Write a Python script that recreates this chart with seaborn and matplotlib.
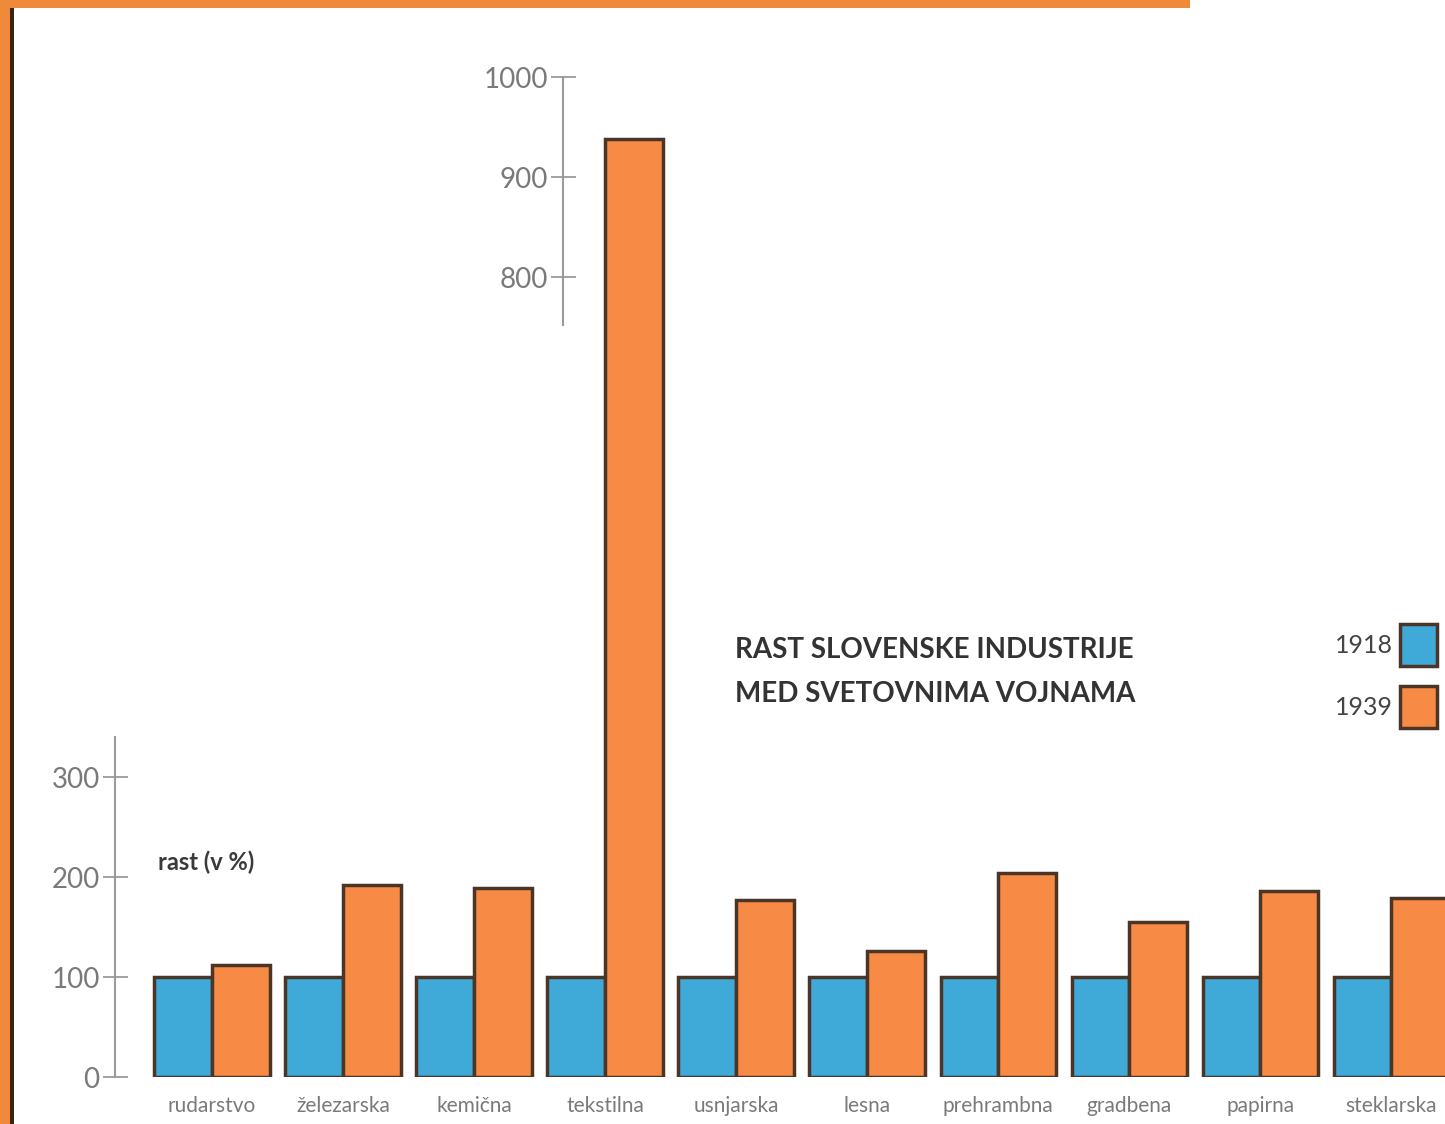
import matplotlib
matplotlib.use("Agg")
import matplotlib.pyplot as plt
from matplotlib.patches import Rectangle
import seaborn as sns
import pandas as pd

# data (index, 1918 = 100)
industries = ["rudarstvo", "železarska", "kemična", "tekstilna", "usnjarska",
              "lesna", "prehrambna", "gradbena", "papirna", "steklarska"]
years = ["1918", "1939"]
values_1918 = [100, 100, 100, 100, 100, 100, 100, 100, 100, 100]
values_1939 = [112, 192, 189, 938, 177, 126, 204, 155, 186, 179]
lower_ticks = [0, 100, 200, 300]
upper_ticks = [800, 900, 1000]

BLUE = "#3fa9d8"
ORANGE = "#f78b45"
EDGE = "#4a3527"
GRAY = "#7a7a7a"
W, H = 1445, 1124

df = pd.DataFrame({
    "industrija": industries * 2,
    "leto": [years[0]] * len(industries) + [years[1]] * len(industries),
    "rast": values_1918 + values_1939,
})

sns.set_theme(style="white")
plt.rcParams["font.family"] = ["Lato", "DejaVu Sans"]

fig = plt.figure(figsize=(W / 100, H / 100), dpi=100)
fig.patch.set_facecolor("white")

bottom = 1 - 1077 / H
height = 1000 / H
ax = fig.add_axes([115 / W, bottom, 1 - 115 / W, height])
sns.barplot(data=df, x="industrija", y="rast", hue="leto", palette=[BLUE, ORANGE],
            width=0.88, edgecolor=EDGE, linewidth=2.5, saturation=1, ax=ax)
ax.set_xlim(-0.74, 9.41)
ax.set_ylim(0, 1000)
ax.set_xlabel("")
ax.set_ylabel("")
ax.patch.set_alpha(0)


def style_axis(a, lo, hi, ticks):
    for s in ["top", "right", "bottom"]:
        a.spines[s].set_visible(False)
    a.spines["left"].set_bounds(lo, hi)
    a.spines["left"].set_color("#9a9a9a")
    a.spines["left"].set_linewidth(1.5)
    a.set_yticks(ticks)
    a.tick_params(axis="y", direction="inout", length=18, width=1.3, color="#9a9a9a",
                  labelsize=20, labelcolor=GRAY, pad=2, left=True)


style_axis(ax, 0, 340, lower_ticks)
ax.tick_params(axis="x", length=0, labelsize=15, labelcolor=GRAY, pad=14)

# upper part of the broken axis
ax2 = fig.add_axes([563 / W, bottom, 0.001, height])
ax2.patch.set_alpha(0)
ax2.set_ylim(0, 1000)
ax2.set_xticks([])
style_axis(ax2, 752, 1000, upper_ticks)

ax.legend(title=None, frameon=False, markerfirst=False, fontsize=18,
          handlelength=1.48, handleheight=2.2, labelspacing=0.8, handletextpad=0.3,
          borderpad=0, borderaxespad=0,
          loc="upper right", bbox_to_anchor=(1437 / W, 1 - 624 / H),
          bbox_transform=fig.transFigure, labelcolor="#444444")

fig.text(158 / W, 1 - 862 / H, "rast (v %)",
         fontsize=17, fontweight="bold", color="#3a3a3a", va="center", ha="left")
fig.text(735 / W, 1 - 637 / H, "RAST SLOVENSKE INDUSTRIJE\nMED SVETOVNIMA VOJNAMA",
         fontsize=20, fontweight="bold", color="#333333", va="top", ha="left",
         linespacing=1.85)

# orange page frame of the scan
fig.patches.append(Rectangle((0, 1 - 8 / H), 1190 / W, 8 / H, transform=fig.transFigure,
                             facecolor="#ee8a3a", edgecolor="none", zorder=5))
fig.patches.append(Rectangle((0, 0), 10 / W, 1, transform=fig.transFigure,
                             facecolor="#ee8a3a", edgecolor="none", zorder=5))
fig.patches.append(Rectangle((10 / W, 0), 4 / W, 1 - 8 / H, transform=fig.transFigure,
                             facecolor="#3a2416", edgecolor="none", zorder=5))

fig.savefig("out.png", dpi=100)
